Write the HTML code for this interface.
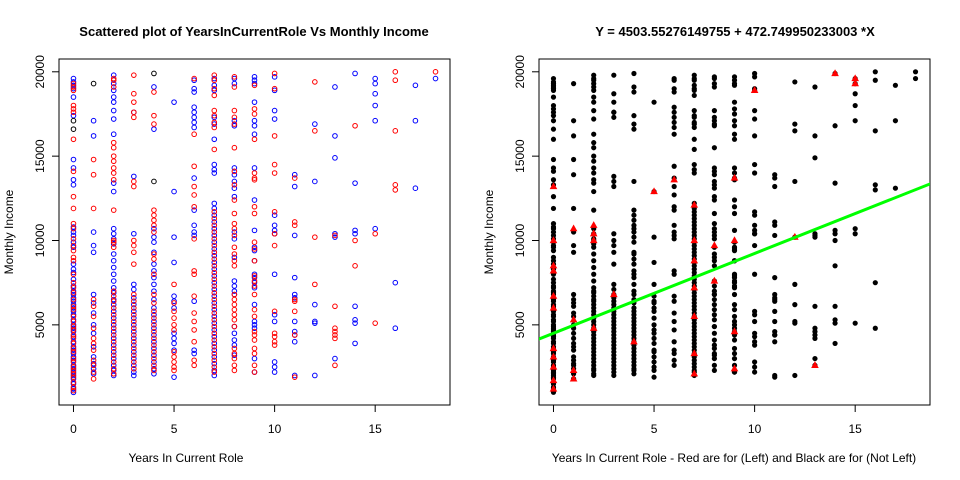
<!DOCTYPE html>
<html><head><meta charset="utf-8"><style>
html,body{margin:0;padding:0;background:#fff}
svg{display:block;font-family:"Liberation Sans",Arial,sans-serif}
</style></head><body>
<svg id="chart" width="960" height="480" viewBox="0 0 960 480">
<defs>
<clipPath id="clipR"><rect x="539" y="59" width="391" height="346"/></clipPath>
</defs>
<text x="254" y="36" text-anchor="middle" font-weight="bold" font-size="13">Scattered plot of YearsInCurrentRole Vs Monthly Income</text>
<text x="735" y="36" text-anchor="middle" font-weight="bold" font-size="13">Y =  4503.55276149755 + 472.749950233003 *X</text>
<rect x="59" y="59" width="391" height="346" fill="none" stroke="#000"/>
<rect x="539" y="59" width="391" height="346" fill="none" stroke="#000"/>
<text x="186" y="462" text-anchor="middle" font-size="12">Years In Current Role</text>
<text x="734" y="462" text-anchor="middle" font-size="12">Years In Current Role - Red are for (Left) and Black are for (Not Left)</text>
<text transform="translate(13,232) rotate(-90)" text-anchor="middle" font-size="12">Monthly Income</text>
<text transform="translate(493,232) rotate(-90)" text-anchor="middle" font-size="12">Monthly Income</text>
<g id="axes"></g>
<g id="leftPts"></g>
<g id="rightPts" clip-path="url(#clipR)"></g>
</svg>
<script>
const xTicks = [0, 5, 10, 15];
const yTicks = [5000, 10000, 15000, 20000];
// incomes in thousands, indexed by YearsInCurrentRole (0..18)
const blueVals = [
[19.6,19.4,19.2,19.0,18.5,17.4,14.8,14.3,13.6,13.3,10.8,10.5,10.3,9.9,9.6,8.6,8.3,8.1,7.7,7.3,7.0,6.8,6.6,6.4,6.2,6.0,5.8,5.6,5.3,5.0,4.8,4.6,4.3,4.0,3.7,3.5,3.3,3.1,2.9,2.6,2.4,2.2,2.0,1.8,1.5,1.2,1.0],
[17.1,16.2,10.5,9.7,9.3,6.8,6.3,5.7,5.0,4.5,3.7,3.1,2.7,2.4,2.1],
[19.8,19.3,18.9,18.5,18.2,17.7,17.2,16.3,13.4,12.9,10.7,10.4,10.1,9.8,9.2,8.8,8.4,8.0,7.6,7.2,6.9,6.5,6.2,5.8,5.4,5.0,4.6,4.2,3.8,3.4,3.0,2.6,2.3,2.0],
[17.6,13.8,10.4,7.4,7.1,6.6,6.2,5.8,5.4,5.0,4.6,4.2,3.8,3.4,3.0,2.6,2.2,2.0],
[19.1,16.6,10.7,10.2,9.9,9.3,8.6,8.2,7.8,7.4,7.0,6.5,6.0,5.6,5.2,4.8,4.4,4.0,3.6,3.2,2.8,2.4,2.1],
[18.2,12.9,10.2,8.7,6.7,6.4,6.0,4.5,4.2,3.9,3.5,1.9],
[19.5,19.0,18.8,17.9,17.6,17.3,17.0,16.7,13.7,11.8,10.9,10.5,10.3,6.4,3.5,3.3],
[19.6,19.2,18.9,17.3,16.9,16.0,14.5,14.2,14.0,12.2,11.9,11.5,11.1,10.7,10.3,9.9,9.5,9.1,8.7,8.3,7.9,7.5,7.1,6.7,6.3,5.9,5.5,5.1,4.7,4.3,3.9,3.5,3.1,2.7,2.3,2.0],
[19.6,19.3,17.1,16.8,14.3,13.9,13.5,13.1,12.6,10.5,10.1,9.0,7.6,7.3,7.0,6.8,4.9,4.5,4.1,3.8,3.2],
[19.7,19.5,19.3,18.2,17.1,16.8,16.3,14.3,12.4,10.6,9.6,9.4,8.8,8.0,7.8,7.5,7.2,6.2,5.2,5.0,4.8,3.0,2.2],
[19.7,18.9,17.7,17.2,11.5,10.9,10.6,10.4,8.0,5.6,5.2,2.8,2.5,2.2],
[13.9,13.2,10.3,7.8,6.8,6.6,5.2,4.6,4.4,4.0,2.0],
[16.9,13.5,6.2,5.2,5.1,2.0],
[19.1,16.2,14.9,10.4,10.2,3.0],
[19.9,13.4,10.6,10.4,6.1,5.3,5.1,3.9],
[19.6,19.3,18.7,18.0,17.1,10.7],
[7.5,4.8],
[19.2,17.1,13.1],
[19.6]
];
const redVals = [
[19.3,19.1,18.9,18.0,17.8,17.6,16.0,14.1,12.6,11.9,11.0,10.7,10.1,9.7,9.4,9.0,8.8,8.0,7.5,7.2,6.9,6.5,6.1,5.9,5.5,5.2,4.9,4.7,4.4,4.2,3.9,3.6,3.4,3.0,2.8,2.5,2.3,2.1,1.9,1.6,1.3,1.1],
[14.8,13.9,11.9,6.5,6.1,5.5,4.8,4.2,3.9,3.5,2.9,2.6,2.2,1.8],
[19.6,19.5,19.1,15.8,15.5,15.0,14.7,14.3,14.0,13.6,11.8,10.0,9.9,9.6,7.0,6.7,6.4,6.0,5.6,5.2,4.8,4.4,4.0,3.6,3.2,2.8,2.4,2.1],
[19.8,18.7,18.2,17.6,17.3,13.5,13.2,10.0,9.7,9.3,8.6,6.8,6.4,6.0,5.6,5.2,4.8,4.4,4.0,3.6,3.2,2.8,2.4],
[18.8,17.4,16.9,11.8,11.5,11.2,10.9,10.5,9.2,8.9,8.0,6.8,6.3,5.8,5.4,5.0,4.6,4.2,3.8,3.4,3.0,2.6,2.3],
[7.4,6.3,5.8,5.4,5.0,4.7,3.4,3.1,2.8,2.5,2.3],
[19.6,16.3,14.4,13.2,12.7,12.0,10.1,8.2,8.0,6.7,5.7,5.2,4.7,4.0,2.9,2.6],
[19.8,19.5,19.0,18.6,17.7,17.4,17.0,16.7,15.4,11.7,11.3,10.9,10.5,10.1,9.7,9.3,8.9,8.5,8.1,7.7,7.3,6.9,6.5,6.1,5.7,5.3,4.9,4.5,4.1,3.7,3.3,2.9,2.5,2.2],
[19.7,19.1,17.7,17.3,16.9,15.5,14.1,13.3,12.4,11.6,11.0,10.7,10.3,9.6,9.2,8.8,8.5,6.8,6.5,6.2,5.9,5.6,5.3,4.9,3.6,3.3,3.0,2.6,2.3],
[19.2,17.8,17.5,16.0,14.0,13.7,13.6,12.0,11.6,9.9,9.5,8.8,7.9,7.6,7.3,6.8,5.9,5.5,4.6,4.4,4.1,3.6,3.3,2.6,2.2],
[19.9,19.0,16.2,14.5,14.0,11.7,10.4,9.7,5.8,4.5,4.3,4.0,3.8],
[13.7,11.1,10.9,6.5,6.4,5.8,4.4,1.9],
[19.4,16.5,10.2,7.4],
[10.3,6.1,4.8,4.6,4.4,4.2,2.6],
[16.8,10.0,8.5],
[10.4,5.1],
[20.0,19.5,16.5,13.3,13.0],
[],
[20.0]
];
const blackVals = [
[17.1,16.6],[19.3],[],[],[19.9,13.5],[],[],[],[],[],[],[],[],[],[],[],[],[],[]
];
// right plot: employees who left (red triangles)
const leftX = [0,0,0,0,0,0,0,0,0,0,0,1,1,1,1,2,2,2,2,3,4,5,6,7,7,7,7,7,7,7,8,8,9,9,9,9,10,12,13,14,15,15];
const leftY = [13.2,10.0,8.5,8.2,6.7,6.0,3.6,3.1,2.5,1.7,1.2,10.7,5.3,2.3,1.8,10.9,10.4,10.0,4.8,6.8,4.0,12.9,13.6,12.1,10.0,8.8,7.2,5.5,3.3,2.1,9.7,7.6,13.7,10.0,4.6,2.4,18.9,10.2,2.6,19.9,19.6,19.3];
const intercept = 4503.55276149755, slope = 472.749950233003;

const NS = 'http://www.w3.org/2000/svg';
const plotTop = 59, plotBottom = 405;
const yMin = 1009 - 0.04*18990, yMax = 19999 + 0.04*18990;
const xMin = -0.72, xMax = 18.72;
function yS(v){ return plotBottom - (v - yMin)/(yMax - yMin)*(plotBottom - plotTop); }
function xL(v){ return 59 + (v - xMin)/(xMax - xMin)*391; }
function xR(v){ return 539 + (v - xMin)/(xMax - xMin)*391; }
function mk(tag, attrs, parent){ const e = document.createElementNS(NS, tag); for (const k in attrs) e.setAttribute(k, attrs[k]); parent.appendChild(e); return e; }

const axes = document.getElementById('axes');
[[xL, 59], [xR, 539]].forEach(([xs, left], pi) => {
  const side = pi === 0 ? 'left' : 'right';
  mk('line', {x1: xs(xTicks[0]), x2: xs(xTicks[xTicks.length-1]), y1: 405, y2: 405, stroke: '#000'}, axes);
  xTicks.forEach(t => {
    const l = mk('line', {x1: xs(t), x2: xs(t), y1: 405, y2: 412, stroke: '#000'}, axes);
    
    
    const tx = mk('text', {x: xs(t), y: 433, 'text-anchor': 'middle', 'font-size': 12}, axes);
    tx.textContent = t;
    
    
  });
  yTicks.forEach(t => {
    const l = mk('line', {x1: left - 7, x2: left, y1: yS(t), y2: yS(t), stroke: '#000'}, axes);
    
    
    const tx = mk('text', {'text-anchor': 'middle', 'font-size': 12, transform: 'translate(' + (left - 15) + ',' + yS(t) + ') rotate(-90)'}, axes);
    tx.textContent = t;
    
    
  });
});

const lp = document.getElementById('leftPts');
const rp = document.getElementById('rightPts');
[[blueVals, '#0000ff'], [redVals, '#ff0000'], [blackVals, '#000000']].forEach(([arr, col]) => {
  arr.forEach((list, x) => list.forEach(v => {
    const c = mk('circle', {cx: xL(x), cy: yS(v*1000), r: 2.3, fill: 'none', stroke: col, 'stroke-width': 1}, lp);
    
    
    const d = mk('circle', {cx: xR(x), cy: yS(v*1000), r: 2.6, fill: '#000'}, rp);
    
    
  }));
});
leftX.forEach((x, i) => {
  const cx = xR(x), cy = yS(leftY[i]*1000);
  const t = mk('polygon', {points: cx + ',' + (cy-4.2) + ' ' + (cx+3.8) + ',' + (cy+2.6) + ' ' + (cx-3.8) + ',' + (cy+2.6), fill: '#ff0000'}, rp);
  
  
});
const rl = mk('line', {x1: xR(-2), y1: yS(intercept + slope*-2), x2: xR(20), y2: yS(intercept + slope*20), stroke: '#00ff00', 'stroke-width': 3}, rp);


</script>
</body></html>
